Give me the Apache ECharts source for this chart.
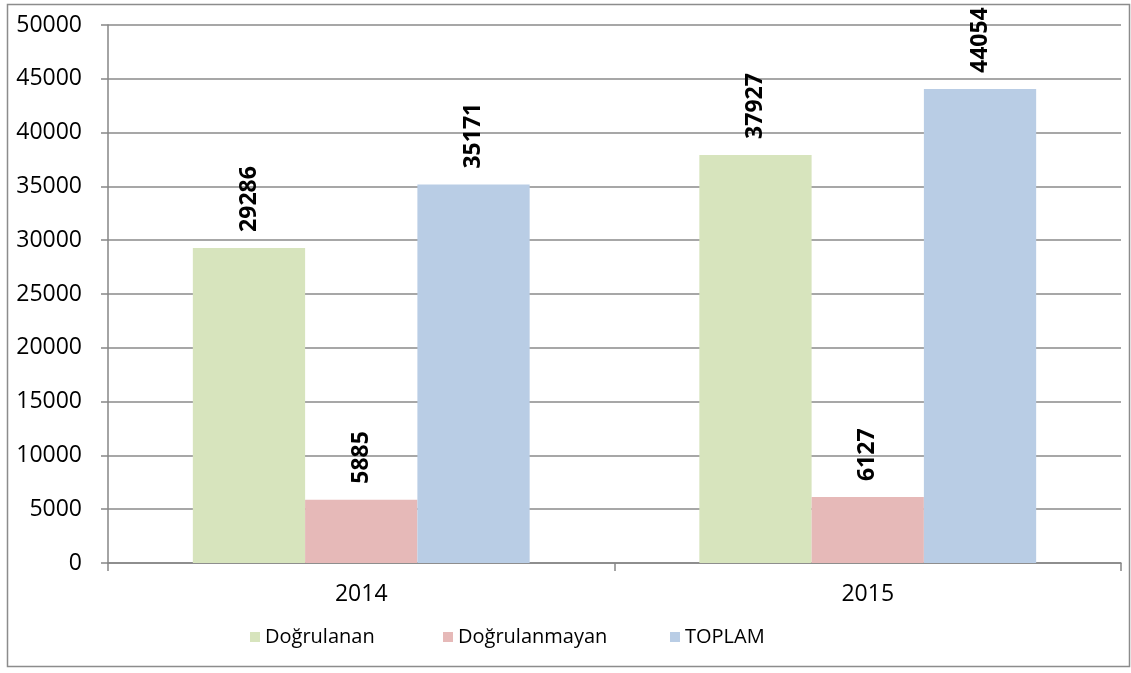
<!DOCTYPE html>
<html>
<head>
<meta charset="utf-8">
<script src="https://cdn.jsdelivr.net/npm/echarts@6/dist/echarts.min.js"></script>
<style>
html,body{margin:0;padding:0;background:#fff;}
#chart{width:1131px;height:673px;}
</style>
</head>
<body>
<div id="chart"></div>
<script>
const categories = ['2014', '2015'];
const seriesNames = ['Doğrulanan', 'Doğrulanmayan', 'TOPLAM'];
const dogrulanan = [29286, 37927];
const dogrulanmayan = [5885, 6127];
const toplam = [35171, 44054];
const yTicks = [0, 5000, 10000, 15000, 20000, 25000, 30000, 35000, 40000, 45000, 50000];

const colors = ['#d7e4bd', '#e6b9b8', '#b9cde5'];
const FONT = '"Open Sans", "Noto Sans", sans-serif';

const chart = echarts.init(document.getElementById('chart'));

function mkSeries(name, data, color) {
  return {
    name: name,
    type: 'bar',
    data: data,
    barGap: '0%',
    barCategoryGap: '33.5%',
    itemStyle: { color: color },
    label: {
      show: true,
      position: 'top',
      rotate: 90,
      align: 'left',
      verticalAlign: 'middle',
      distance: 16,
      fontFamily: FONT,
      fontWeight: 'bold',
      fontSize: 23,
      color: '#000'
    }
  };
}

const legendLefts = [245, 438, 665];

chart.setOption({
  animation: false,
  color: colors,
  textStyle: { fontFamily: FONT },
  graphic: [{
    type: 'rect',
    shape: { x: 7.5, y: 4.5, width: 1122, height: 662 },
    style: { fill: 'none', stroke: '#8c8c8c', lineWidth: 1.5 },
    silent: true,
    z: -1
  }],
  grid: { left: 108, right: 10, top: 25, bottom: 110, containLabel: false },
  legend: seriesNames.map((n, i) => ({
    data: [n],
    left: legendLefts[i],
    top: 622,
    icon: 'rect',
    itemWidth: 10,
    itemHeight: 10,
    itemGap: 7,
    textStyle: { fontFamily: FONT, fontSize: 20, color: '#000' }
  })),
  xAxis: {
    type: 'category',
    data: categories,
    axisLine: { lineStyle: { color: '#868686', width: 1.5 } },
    axisTick: { show: true, length: 8, lineStyle: { color: '#868686', width: 1.5 } },
    axisLabel: { margin: 20, fontSize: 23, color: '#000', fontFamily: FONT }
  },
  yAxis: {
    type: 'value',
    min: yTicks[0],
    max: yTicks[yTicks.length - 1],
    interval: yTicks[1] - yTicks[0],
    axisLine: { show: true, lineStyle: { color: '#868686', width: 1.5 } },
    axisTick: { show: true, length: 7, lineStyle: { color: '#868686', width: 1.5 } },
    axisLabel: { margin: 26, fontSize: 23, color: '#000', fontFamily: FONT, formatter: v => String(v) },
    splitLine: { lineStyle: { color: '#8a8a8a', width: 1.6 } }
  },
  series: [
    mkSeries(seriesNames[0], dogrulanan, colors[0]),
    mkSeries(seriesNames[1], dogrulanmayan, colors[1]),
    mkSeries(seriesNames[2], toplam, colors[2])
  ]
});
</script>
</body>
</html>
